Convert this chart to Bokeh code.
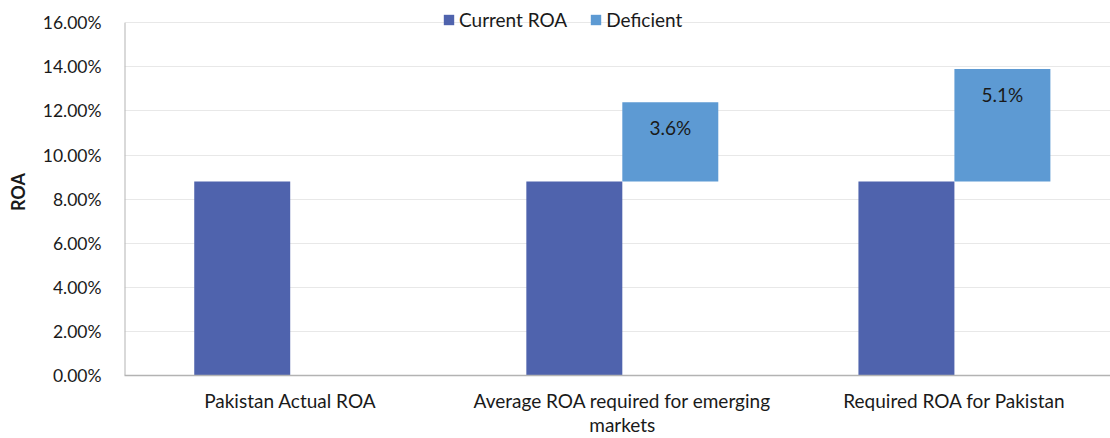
from bokeh.plotting import figure
from bokeh.models import Range1d, NumeralTickFormatter, ColumnDataSource, Legend, LegendItem, FixedTicker
from bokeh.transform import dodge
from bokeh.embed import file_html
from bokeh.resources import INLINE
from bokeh.core.properties import value

categories = ["Pakistan Actual ROA", "Average ROA required for emerging\nmarkets", "Required ROA for Pakistan"]
current_roa = [0.088, 0.088, 0.088]
deficient = [0.0, 0.036, 0.051]
y_ticks = [0.0, 0.02, 0.04, 0.06, 0.08, 0.10, 0.12, 0.14, 0.16]

FONT = "Lato"
TXT = "#1a1a1a"
AXIS = "#b3b3b3"
xs = list(range(len(categories)))
tops = [c + d for c, d in zip(current_roa, deficient)]
labels = [f"{d*100:.1f}%" if d > 0 else "" for d in deficient]

src = ColumnDataSource(dict(x=xs, cur=current_roa, top=tops, lab=labels))

x0 = -0.499
p = figure(width=1110, height=438, output_backend="svg", toolbar_location=None,
           x_range=Range1d(x0, 2.47), y_range=Range1d(0, 0.1665),
           min_border_left=124, min_border_right=0, min_border_top=8, min_border_bottom=63)
p.outline_line_color = None
p.border_fill_color = "white"
p.background_fill_color = "white"

p.ygrid.ticker = FixedTicker(ticks=y_ticks)
p.ygrid.grid_line_color = "#e8e8e8"
p.ygrid.grid_line_width = 1.2

# left axis line only up to the top tick, as in the reference
p.segment(x0=[x0], y0=[y_ticks[0]], x1=[x0], y1=[y_ticks[-1]], line_color=AXIS, line_width=2)

bw = 0.289
r1 = p.vbar(x=dodge("x", -bw / 2, range=p.x_range), top="cur", bottom=0, width=bw,
            source=src, fill_color="#4f63ad", line_color=None)
r2 = p.vbar(x=dodge("x", bw / 2, range=p.x_range), top="top", bottom="cur", width=bw,
            source=src, fill_color="#5d9ad3", line_color=None)
p.text(x=dodge("x", bw / 2, range=p.x_range), y="top", text="lab", source=src,
       text_align="center", text_baseline="middle", y_offset=25,
       text_font=value(FONT), text_font_size="19px", text_color=TXT)

p.xaxis.ticker = FixedTicker(ticks=xs)
p.xaxis.major_label_overrides = {i: c for i, c in enumerate(categories)}
p.xaxis.major_tick_line_color = None
p.xaxis.minor_tick_line_color = None
p.xaxis.axis_line_color = AXIS
p.xaxis.axis_line_width = 1.5
p.xaxis.major_label_standoff = 7
p.xaxis.major_label_text_font = FONT
p.xaxis.major_label_text_font_size = "19px"
p.xaxis.major_label_text_line_height = 1.05
p.xaxis.major_label_text_color = TXT
p.xgrid.grid_line_color = None

p.yaxis.ticker = FixedTicker(ticks=y_ticks)
p.yaxis.formatter = NumeralTickFormatter(format="0.00%")
p.yaxis.major_tick_line_color = None
p.yaxis.minor_tick_line_color = None
p.yaxis.axis_line_color = None
p.yaxis.major_label_standoff = 17
p.yaxis.major_label_text_font = FONT
p.yaxis.major_label_text_font_size = "17.5px"
p.yaxis.major_label_text_color = TXT
p.yaxis.axis_label = "ROA"
p.yaxis.axis_label_text_font = FONT
p.yaxis.axis_label_text_font_style = "bold"
p.yaxis.axis_label_text_font_size = "18px"
p.yaxis.axis_label_text_color = TXT
p.yaxis.axis_label_standoff = 11

legend = Legend(items=[LegendItem(label="Current ROA", renderers=[r1]),
                       LegendItem(label="Deficient", renderers=[r2])],
                orientation="horizontal", location=(318, 344),
                glyph_width=13, glyph_height=13, label_standoff=4, spacing=22,
                padding=0, margin=0, border_line_color=None, background_fill_alpha=0,
                label_text_font=FONT, label_text_font_size="19px", label_text_color=TXT)
p.add_layout(legend)

open("out.html", "w").write(file_html(p, INLINE))
